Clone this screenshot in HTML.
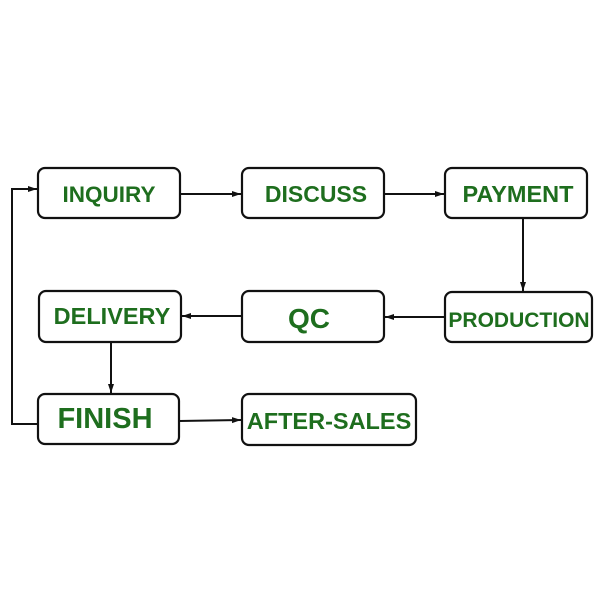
<!DOCTYPE html>
<html><head><style>body{margin:0;background:#fff}</style></head><body>
<svg width="600" height="600" xmlns="http://www.w3.org/2000/svg">
<defs><marker id="a" markerWidth="10" markerHeight="8" refX="9" refY="4" orient="auto" markerUnits="userSpaceOnUse"><path d="M0,1 L9,4 L0,7 z" fill="#111"/></marker></defs>
<g fill="#fff" stroke="#111" stroke-width="2.2">
<rect x="38" y="168" width="142" height="50" rx="7"/>
<rect x="242" y="168" width="142" height="50" rx="7"/>
<rect x="445" y="168" width="142" height="50" rx="7"/>
<rect x="445" y="292" width="147" height="50" rx="7"/>
<rect x="242" y="291" width="142" height="51" rx="7"/>
<rect x="39" y="291" width="142" height="51" rx="7"/>
<rect x="38" y="394" width="141" height="50" rx="7"/>
<rect x="242" y="394" width="174" height="51" rx="7"/>
</g>
<g stroke="#111" stroke-width="2" fill="none" marker-end="url(#a)">
<line x1="180" y1="194" x2="241" y2="194"/>
<line x1="384" y1="194" x2="444" y2="194"/>
<line x1="523" y1="218" x2="523" y2="291"/>
<line x1="445" y1="317" x2="385" y2="317"/>
<line x1="242" y1="316" x2="182" y2="316"/>
<line x1="111" y1="342" x2="111" y2="393"/>
<line x1="179" y1="421" x2="241" y2="420"/>
<polyline points="38,424 12,424 12,189 37,189"/>
</g>
<g fill="#1e6e1e" font-family="Liberation Sans, sans-serif" font-weight="bold" text-anchor="middle">
<text x="109" y="202" font-size="22.5">INQUIRY</text>
<text x="316" y="202" font-size="23">DISCUSS</text>
<text x="518" y="202" font-size="23.5">PAYMENT</text>
<text x="519" y="327" font-size="21">PRODUCTION</text>
<text x="309" y="328" font-size="28">QC</text>
<text x="112" y="324" font-size="23.5">DELIVERY</text>
<text x="105" y="428" font-size="29">FINISH</text>
<text x="329" y="429" font-size="23.5">AFTER-SALES</text>
</g>
</svg>
</body></html>
